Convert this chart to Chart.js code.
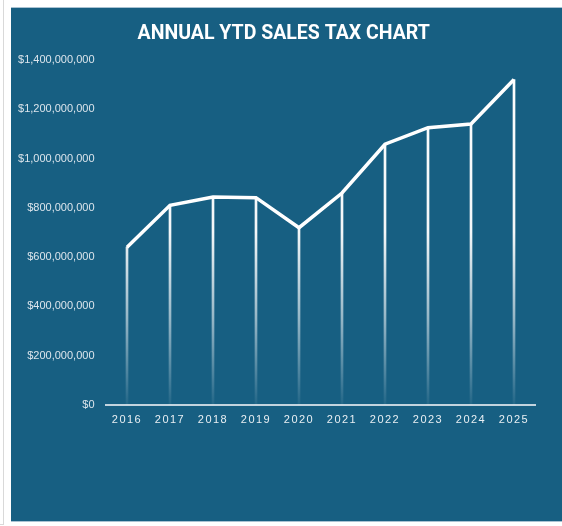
<!DOCTYPE html>
<html>
<head>
<meta charset="utf-8">
<script src="https://cdn.jsdelivr.net/npm/chart.js@4.4.1/dist/chart.umd.min.js"></script>
<style>
  html, body { margin: 0; padding: 0; background: #ffffff; width: 562px; height: 526px; overflow: hidden; }
  #edge { position: absolute; left: 0; top: 0; width: 3px; height: 524px; border-right: 1px solid #d9d9d9; border-bottom: 1px solid #d9d9d9; }
  #panel { position: absolute; left: 11px; top: 7px; width: 551px; height: 515px; background: #175f82; border-top: 1px solid #a9c2d2; border-bottom: 1px solid #a9c2d2; box-sizing: border-box; }
  #wrap { position: absolute; left: 11px; top: 7px; width: 551px; height: 515px; }
</style>
</head>
<body>
<div id="edge"></div>
<div id="panel"></div>
<div id="wrap"><canvas id="c"></canvas></div>
<script>
const chartTitle = 'ANNUAL YTD SALES TAX CHART';
const years = ['2016', '2017', '2018', '2019', '2020', '2021', '2022', '2023', '2024', '2025'];
const salesTax = [640000000, 810000000, 844000000, 841000000, 719000000, 860000000, 1058000000, 1125000000, 1140000000, 1321000000];
const yTickMin = 0;
const yTickMax = 1400000000;
const yTickStep = 200000000;

// x-axis labels are drawn after the datasets (ticks.z = 1) with letter spacing
const spacingPlugin = {
  id: 'spacing',
  beforeDraw(chart) { chart.ctx.letterSpacing = '0px'; },
  afterDatasetsDraw(chart) { chart.ctx.letterSpacing = '1.5px'; },
  afterDraw(chart) { chart.ctx.letterSpacing = '0px'; }
};

function dropGradient(context) {
  const chart = context.chart;
  const area = chart.chartArea;
  if (!area) return 'rgba(255,255,255,0.9)';
  const g = chart.ctx.createLinearGradient(0, area.top, 0, area.bottom);
  g.addColorStop(0, 'rgba(255,255,255,1)');
  g.addColorStop(0.5, 'rgba(255,255,255,0.95)');
  g.addColorStop(0.75, 'rgba(255,255,255,0.55)');
  g.addColorStop(1, 'rgba(255,255,255,0.05)');
  return g;
}

new Chart(document.getElementById('c'), {
  data: {
    labels: years,
    datasets: [
      {
        type: 'line',
        label: 'Sales Tax',
        data: salesTax,
        yAxisID: 'y',
        borderColor: '#ffffff',
        borderWidth: 3.5,
        pointRadius: 0,
        pointHoverRadius: 0,
        tension: 0,
        fill: false,
        order: 0
      },
      {
        type: 'bar',
        label: 'Drop lines',
        data: salesTax,
        yAxisID: 'y',
        backgroundColor: dropGradient,
        barThickness: 2,
        borderWidth: 0,
        order: 1
      }
    ]
  },
  options: {
    responsive: true,
    maintainAspectRatio: false,
    animation: false,
    layout: { padding: { left: 0, right: 5.6, top: 0, bottom: 86 } },
    plugins: {
      legend: { display: false },
      tooltip: { enabled: false },
      title: {
        display: true,
        text: chartTitle,
        color: '#ffffff',
        font: { family: 'Roboto', size: 19.5, weight: 'bold', lineHeight: 1.2 },
        padding: { top: 15.8, bottom: 13.8 }
      }
    },
    scales: {
      x: {
        offset: true,
        grid: { display: false, drawTicks: false },
        border: { display: true, color: '#c3d4df', width: 2 },
        ticks: {
          z: 1,
          color: '#e9eff3',
          font: { family: 'Liberation Sans', size: 11 },
          padding: 9,
          maxRotation: 0,
          autoSkip: false
        }
      },
      y: {
        min: yTickMin,
        max: yTickMax,
        grid: { display: false, drawTicks: false },
        border: { display: false },
        afterFit(scale) { scale.width = 94.5; },
        ticks: {
          stepSize: yTickStep,
          color: '#dce5ec',
          font: { family: 'Liberation Sans', size: 11 },
          padding: 11,
          callback: (v) => '$' + Number(v).toLocaleString('en-US')
        }
      },
      yRight: {
        type: 'linear',
        position: 'right',
        min: yTickMin,
        max: yTickMax,
        grid: { display: false, drawTicks: false },
        border: { display: false },
        ticks: { display: false },
        afterFit(scale) { scale.width = 20.9; }
      }
    }
  },
  plugins: [spacingPlugin]
});
</script>
</body>
</html>
